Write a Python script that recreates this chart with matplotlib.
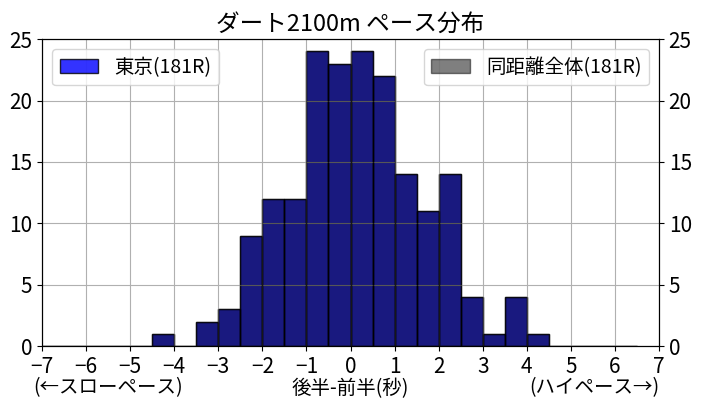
import numpy as np
import matplotlib
matplotlib.use("Agg")
import matplotlib.pyplot as plt

plt.rcParams['font.family'] = ['Noto Sans CJK JP', 'DejaVu Sans']

# bin left edges (0.5 s width) and race counts per bin
BIN_EDGES = [-7.0, -6.5, -6.0, -5.5, -5.0, -4.5, -4.0, -3.5, -3.0, -2.5, -2.0, -1.5,
             -1.0, -0.5, 0.0, 0.5, 1.0, 1.5, 2.0, 2.5, 3.0, 3.5, 4.0, 4.5, 5.0,
             5.5, 6.0, 6.5]
TOKYO = [0, 0, 0, 0, 0, 1, 0, 2, 3, 9, 12, 12, 24, 23, 24, 22, 14, 11, 14, 4, 1,
         4, 1, 0, 0, 0, 0]
ALL_DIST = [0, 0, 0, 0, 0, 1, 0, 2, 3, 9, 12, 12, 24, 23, 24, 22, 14, 11, 14, 4, 1,
            4, 1, 0, 0, 0, 0]

centers = np.array(BIN_EDGES[:-1]) + 0.25

fig, ax1 = plt.subplots(figsize=(7.01, 4.12), dpi=100)
ax1.hist(centers, bins=BIN_EDGES, weights=TOKYO, color="blue", alpha=0.8,
         ec="black", label=f"東京({sum(TOKYO)}R)")
ax2 = ax1.twinx()
ax2.hist(centers, bins=BIN_EDGES, weights=ALL_DIST, color="black", alpha=0.5,
         ec="black", label=f"同距離全体({sum(ALL_DIST)}R)")

for ax in (ax1, ax2):
    ax.set_ylim(0, 25)
    ax.set_xlim(-7, 7)
    ax.tick_params(labelsize=15)
ax1.set_xticks(range(-7, 8))
ax1.set_xticklabels([str(v).replace("-", "−") for v in range(-7, 8)])
ax1.grid(True)

ax1.legend(loc="upper left", fontsize=14)
ax2.legend(loc="upper right", fontsize=14)
ax1.set_title("ダート2100m ペース分布", fontsize=17)
ax1.set_xlabel("後半-前半(秒)", fontsize=14, labelpad=0)
ax1.text(-0.015, -0.135, "(←スローペース)", transform=ax1.transAxes, fontsize=14,
         ha="left", va="center")
ax1.text(1.0, -0.135, "(ハイペース→)", transform=ax1.transAxes, fontsize=14,
         ha="right", va="center")

plt.subplots_adjust(left=0.06, right=0.94, top=0.905, bottom=0.16)
plt.savefig("out.png", dpi=100)
